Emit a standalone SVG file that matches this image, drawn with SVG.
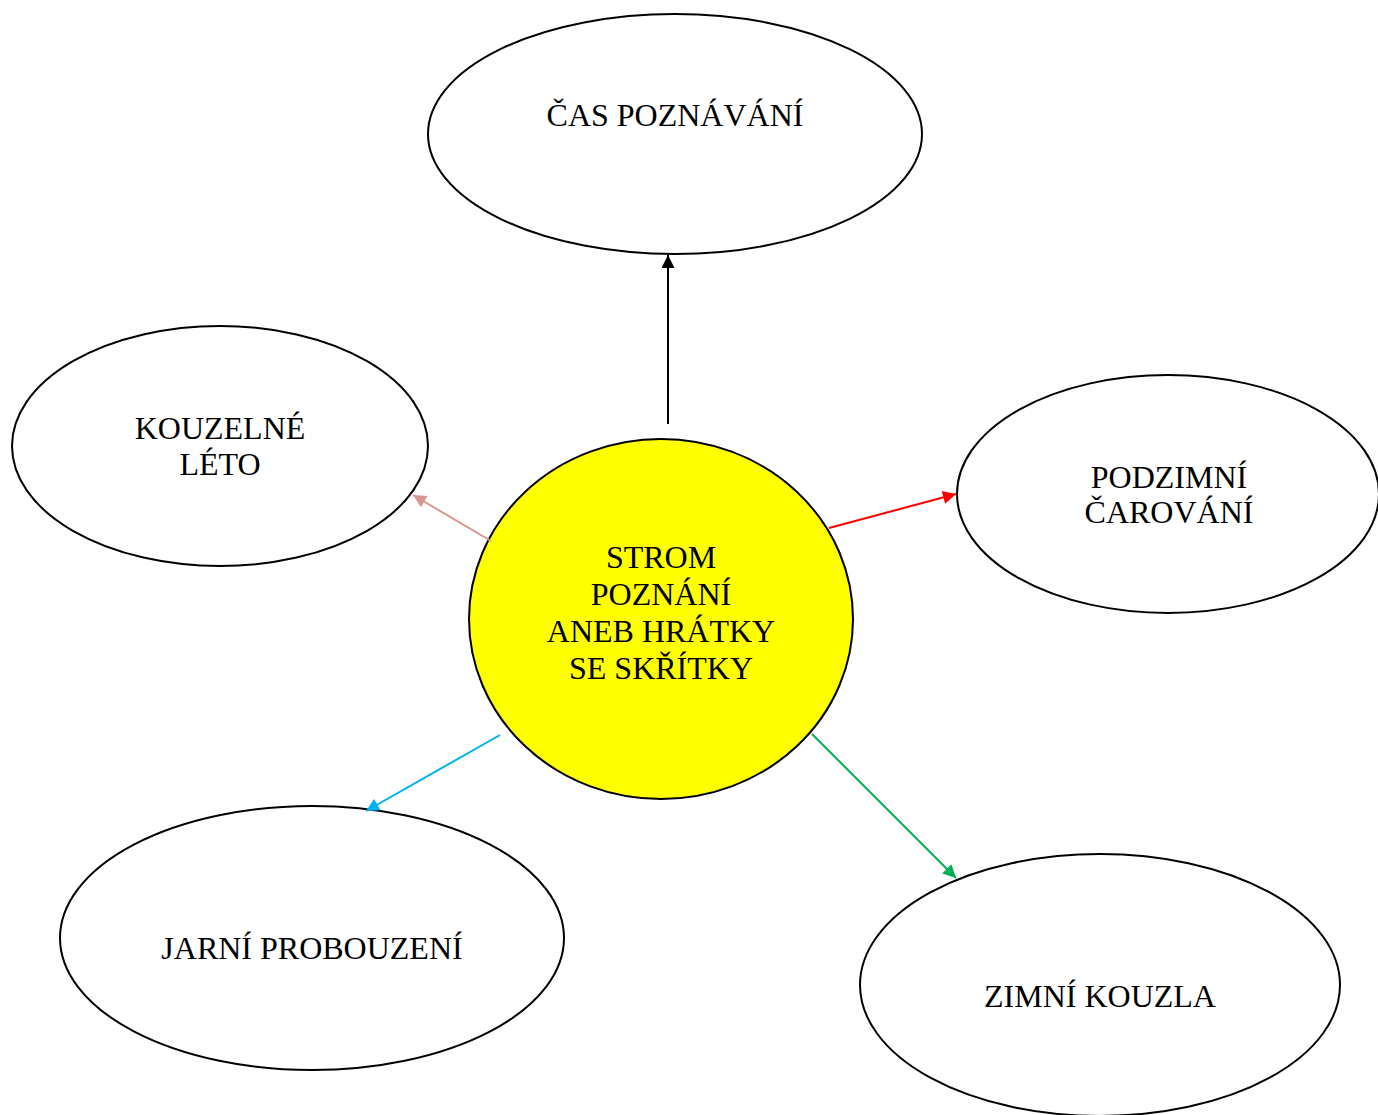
<svg xmlns="http://www.w3.org/2000/svg" width="1378" height="1115" viewBox="0 0 1378 1115">
<style>
.n{fill:#fff;stroke:#000;stroke-width:2}
.t{font-family:"Liberation Serif","Times New Roman",serif;font-size:32px;fill:#000;text-anchor:middle}
.c{fill:none;stroke-width:2}
</style>
<defs>
<marker id="mBlack" viewBox="0 0 10 10" refX="10" refY="5" markerWidth="15" markerHeight="13" markerUnits="userSpaceOnUse" orient="auto"><path d="M0,0 L10,5 L0,10 Z" fill="#000"/></marker>
<marker id="mPink" viewBox="0 0 10 10" refX="10" refY="5" markerWidth="15" markerHeight="13" markerUnits="userSpaceOnUse" orient="auto"><path d="M0,0 L10,5 L0,10 Z" fill="#D99594"/></marker>
<marker id="mRed" viewBox="0 0 10 10" refX="10" refY="5" markerWidth="15" markerHeight="13" markerUnits="userSpaceOnUse" orient="auto"><path d="M0,0 L10,5 L0,10 Z" fill="#FF0000"/></marker>
<marker id="mBlue" viewBox="0 0 10 10" refX="10" refY="5" markerWidth="15" markerHeight="13" markerUnits="userSpaceOnUse" orient="auto"><path d="M0,0 L10,5 L0,10 Z" fill="#00B0F0"/></marker>
<marker id="mGreen" viewBox="0 0 10 10" refX="10" refY="5" markerWidth="15" markerHeight="13" markerUnits="userSpaceOnUse" orient="auto"><path d="M0,0 L10,5 L0,10 Z" fill="#00B050"/></marker>
</defs>
<rect width="1378" height="1115" fill="#fff"/>
<g id="node-cas">
<ellipse class="n" cx="675" cy="134" rx="247" ry="120"/>
<text class="t" x="675" y="126">ČAS POZNÁVÁNÍ</text>
</g>
<g id="node-leto">
<ellipse class="n" cx="220" cy="446" rx="208" ry="120"/>
<text class="t" x="220" y="439">KOUZELNÉ</text>
<text class="t" x="220" y="475">LÉTO</text>
</g>
<g id="node-podzim">
<ellipse class="n" cx="1168" cy="494" rx="211" ry="119"/>
<text class="t" x="1169" y="488">PODZIMNÍ</text>
<text class="t" x="1169" y="523">ČAROVÁNÍ</text>
</g>
<g id="node-jaro">
<ellipse class="n" cx="312" cy="938" rx="252" ry="132"/>
<text class="t" x="312" y="959">JARNÍ PROBOUZENÍ</text>
</g>
<g id="node-zima">
<ellipse class="n" cx="1100" cy="985" rx="240" ry="131"/>
<text class="t" x="1100" y="1007">ZIMNÍ KOUZLA</text>
</g>
<g id="node-strom">
<ellipse cx="661" cy="619" rx="192" ry="180" fill="#FFFF00" stroke="#000" stroke-width="2"/>
<text class="t" x="661" y="568">STROM</text>
<text class="t" x="661" y="605">POZNÁNÍ</text>
<text class="t" x="661" y="642">ANEB HRÁTKY</text>
<text class="t" x="661" y="679">SE SKŘÍTKY</text>
</g>
<g id="connectors">
<line class="c" x1="668" y1="424" x2="668" y2="255" stroke="#000" marker-end="url(#mBlack)"/>
<line class="c" x1="491" y1="541" x2="413" y2="495" stroke="#D99594" marker-end="url(#mPink)"/>
<line class="c" x1="829" y1="528" x2="956" y2="494" stroke="#FF0000" marker-end="url(#mRed)"/>
<line class="c" x1="500" y1="735" x2="366" y2="811" stroke="#00B0F0" marker-end="url(#mBlue)"/>
<line class="c" x1="812" y1="734" x2="956" y2="878" stroke="#00B050" marker-end="url(#mGreen)"/>
</g>
</svg>
